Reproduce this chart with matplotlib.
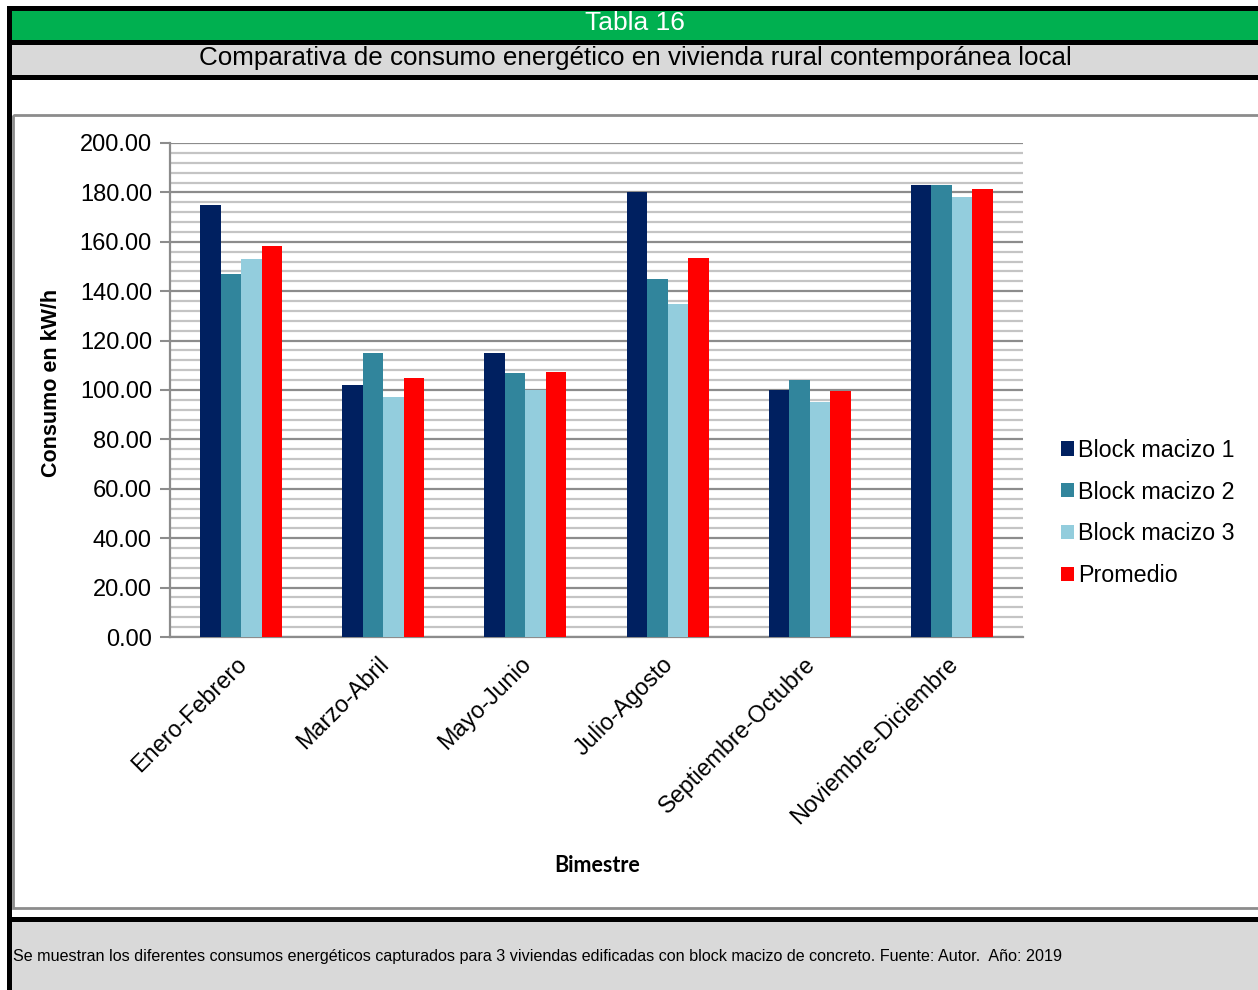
import matplotlib
matplotlib.use("Agg")
import matplotlib.pyplot as plt
from matplotlib import font_manager
from matplotlib.patches import Rectangle
from matplotlib.transforms import ScaledTranslation
import numpy as np

# ---- data ----
categories = ["Enero-Febrero", "Marzo-Abril", "Mayo-Junio", "Julio-Agosto",
              "Septiembre-Octubre", "Noviembre-Diciembre"]
block1 = [175, 102, 115, 180, 100, 183]
block2 = [147, 115, 107, 145, 104, 183]
block3 = [153, 97, 100, 135, 95, 178]
promedio = [158.3, 104.7, 107.3, 153.3, 99.7, 181.3]
series_names = ["Block macizo 1", "Block macizo 2", "Block macizo 3", "Promedio"]
series_colors = ["#002060", "#31859C", "#93CDDD", "#FF0000"]
yticks = [0, 20, 40, 60, 80, 100, 120, 140, 160, 180, 200]

title_band = "Tabla 16"
subtitle = "Comparativa de consumo energético en vivienda rural contemporánea local"
caption = ("Se muestran los diferentes consumos energéticos capturados para 3 viviendas "
           "edificadas con block macizo de concreto. Fuente: Autor.  Año: 2019")

available = {f.name for f in font_manager.fontManager.ttflist}
narrow = "Liberation Sans Narrow" if "Liberation Sans Narrow" in available else "Liberation Sans"
base = "Liberation Sans"
plt.rcParams["font.family"] = [base, "DejaVu Sans"]

W, H = 1258, 990
fig = plt.figure(figsize=(W / 100, H / 100), dpi=100)

# page frame drawn in pixel coordinates
bg = fig.add_axes([0, 0, 1, 1])
bg.set_xlim(0, W)
bg.set_ylim(H, 0)
bg.axis("off")

def rect(x0, y0, x1, y1, color, z=1, **kw):
    bg.add_patch(Rectangle((x0, y0), x1 - x0, y1 - y0, facecolor=color,
                           edgecolor="none", zorder=z, **kw))

rect(7, 6, W, 11, "black")
rect(12, 11, W, 40, "#00B050")
rect(12, 40, W, 45, "black")
rect(12, 45, W, 75, "#D9D9D9")
rect(12, 75, W, 80, "black")
rect(12, 917, W, 922, "black")
rect(12, 922, W, H, "#D9D9D9")
rect(7, 6, 12, H, "black")
# chart area border
bg.add_patch(Rectangle((13, 115), W, 793, facecolor="none", edgecolor="#8C8C8C",
                       linewidth=2, zorder=2))

bg.text(635, 23, title_band, color="white", fontsize=19, ha="center", va="center",
        family=[narrow, "DejaVu Sans"])
bg.text(635, 58, subtitle, color="black", fontsize=18.7, ha="center", va="center")
bg.text(13, 957, caption, color="black", fontsize=11.6, ha="left", va="center",
        family=[narrow, "DejaVu Sans"])

# ---- chart ----
ax = fig.add_axes([170 / W, (H - 637) / H, 853 / W, 494 / H])
ax.set_facecolor("none")
x = np.arange(len(categories))
bw = 0.144
all_series = [block1, block2, block3, promedio]
handles = []
for i, (vals, name, col) in enumerate(zip(all_series, series_names, series_colors)):
    h = ax.bar(x + (i - 1.5) * bw, vals, width=bw, color=col, label=name, zorder=3,
               edgecolor="none")
    handles.append(h)

ax.set_xlim(-0.5, len(categories) - 0.5)
ax.set_ylim(0, 200)
ax.set_yticks(yticks)
ax.set_yticklabels([f"{v:.2f}" for v in yticks], fontsize=17)
ax.set_yticks(np.arange(0, 201, 4), minor=True)
ax.grid(which="minor", axis="y", color="#C4C4C4", linewidth=1.6, zorder=1)
ax.grid(which="major", axis="y", color="#8C8C8C", linewidth=1.6, zorder=1)
ax.tick_params(axis="y", which="major", length=7, width=1.5, color="#8C8C8C", pad=6)
ax.tick_params(axis="y", which="minor", length=0)
ax.set_xticks(x)
ax.set_xticklabels(categories, fontsize=16.8, rotation=45, ha="right", va="top",
                   rotation_mode="anchor")
ax.tick_params(axis="x", length=0, pad=11)
shift = ScaledTranslation(-6 / 100, 0, fig.dpi_scale_trans)
for lbl in ax.get_xticklabels():
    lbl.set_transform(lbl.get_transform() + shift)
for s in ["top", "right"]:
    ax.spines[s].set_visible(False)
for s in ["left", "bottom"]:
    ax.spines[s].set_color("#8C8C8C")
    ax.spines[s].set_linewidth(1.6)

fig.text(52 / W, 1 - 383 / H, "Consumo en kW/h", rotation=90, fontsize=15.5,
         fontweight="bold", ha="center", va="center")
fig.text(597 / W, 1 - 865 / H, "Bimestre", fontsize=15.5, fontweight="bold",
         ha="center", va="center", family=["Lato", "DejaVu Sans"])

fig.legend(handles=handles, labels=series_names, loc="center left",
           bbox_to_anchor=(1061 / W, 1 - 513 / H), frameon=False, fontsize=16.75,
           handlelength=0.55, handleheight=0.55, handletextpad=0.2,
           labelspacing=0.81, borderpad=0, borderaxespad=0)

fig.savefig("out.png", dpi=100)
